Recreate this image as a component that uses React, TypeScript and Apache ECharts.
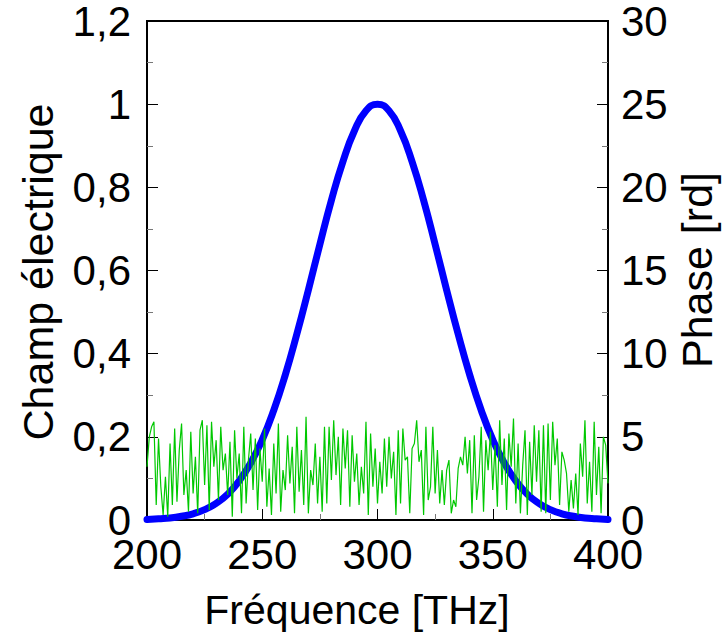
import React, { useEffect, useRef } from "react";
import * as echarts from "echarts";

// Amplitude (Champ électrique) read at 5 THz steps
const ampFreq = [
  200, 205, 210, 215, 220, 225, 230, 235, 240, 245, 250, 255, 260, 265, 270, 275, 280, 285, 290, 295,
  300, 305, 310, 315, 320, 325, 330, 335, 340, 345, 350, 355, 360, 365, 370, 375, 380, 385, 390, 395, 400,
];
const ampValues = [
  0.001, 0.003, 0.005, 0.009, 0.015, 0.025, 0.04, 0.062, 0.094, 0.137, 0.193, 0.264, 0.349, 0.447, 0.553,
  0.663, 0.769, 0.862, 0.936, 0.984, 1.0, 0.984, 0.936, 0.862, 0.769, 0.663, 0.553, 0.447, 0.349, 0.264,
  0.193, 0.137, 0.094, 0.062, 0.04, 0.025, 0.015, 0.009, 0.005, 0.003, 0.001,
];

// Phase [rd], sampled every 1 THz from 200 THz
const phaseStartFreq = 200;
const phaseStepFreq = 1;
const phaseValues = [
  3.2, 5.0, 5.6, 5.9, 0.9, 4.9, 2.0, 0.3, 2.6, 0.2, 4.6, 0.9, 5.5, 1.1, 4.2, 5.8, 1.5, 3.0, 0.5, 5.3,
  1.6, 3.8, 0.4, 5.4, 6.0, 2.1, 5.7, 0.6, 5.9, 3.2, 4.8, 1.2, 5.6, 3.0, 4.0,
  1.5, 4.7, 0.2, 5.4, 2.5, 4.0, 0.4, 5.6, 1.0, 3.6, 5.2, 1.8, 4.9, 0.6, 4.3, 2.3, 5.5, 0.8, 3.1, 0.3,
  4.6, 1.6, 5.8, 0.5, 3.0, 1.8, 5.1, 2.2, 4.4, 0.4, 5.6, 1.7, 4.2, 0.9,
  6.2, 0.4, 3.0, 2.1, 4.6, 1.0, 3.8, 0.5, 5.6, 1.0, 5.6, 2.4, 6.0, 2.7, 5.0, 0.9, 5.5, 3.1, 5.4, 0.8,
  5.1, 2.3, 4.0, 0.9, 3.2, 1.6, 5.9, 0.3, 5.2, 2.0, 4.3, 1.0, 3.5, 1.6, 4.9, 2.0,
  5.0, 2.5, 4.1, 0.3, 5.4, 1.0, 5.5, 3.6, 3.8, 0.4, 4.3, 4.6, 6.0, 3.5, 4.2, 0.3, 5.6, 1.2, 2.0, 5.6,
  1.6, 4.2, 1.0, 3.0, 0.9, 3.0, 3.6, 0.4, 1.2, 0.8, 3.1, 3.8, 3.3,
  5.0, 2.8, 4.8, 0.4, 5.1, 1.2, 2.6, 5.6, 0.5, 4.8, 3.0, 5.3, 1.8, 4.5, 0.8, 6.0, 2.1, 4.9, 0.6, 5.2,
  3.2, 6.1, 1.0, 4.6, 0.4, 3.3, 5.4, 0.3, 4.7, 1.5, 5.7, 2.3, 5.4, 0.5, 5.7,
  0.4, 5.8, 1.2, 5.9, 3.3, 4.9, 0.9, 4.1, 3.6, 2.8, 0.5, 2.4, 0.7, 2.8, 0.3, 4.6, 2.6, 6.0, 1.0, 3.5,
  0.5, 5.9, 1.5, 4.4, 0.4, 5.0, 4.5, 2.2,
];

// Axis ranges
const xRange = [200, 400, 50];
const leftRange = [0, 1.2, 0.2];
const rightRange = [0, 30, 5];

const xTitle = "Fréquence [THz]";
const leftTitle = "Champ électrique";
const rightTitle = "Phase [rd]";

const FONT = "'Liberation Sans', Arial, sans-serif";

export default function App() {
  const ref = useRef<HTMLDivElement>(null);

  useEffect(() => {
    if (!ref.current) return;
    const chart = echarts.init(ref.current, null, { renderer: "svg" });

    const ampData = ampFreq.map((f, i) => [f, ampValues[i]]);
    const phaseData = phaseValues.map((v, i) => [phaseStartFreq + i * phaseStepFreq, v]);

    const tickLabel = { fontSize: 42, color: "#000", fontFamily: FONT };
    const yTickLabel = { ...tickLabel, lineHeight: 34, padding: [6, 0, 0, 0] };
    const axisLine = { show: true, lineStyle: { color: "#000", width: 2 } };
    const axisTick = { show: true, inside: true, length: 11, lineStyle: { color: "#000", width: 1 } };
    const minorTick = { show: true, splitNumber: 2, length: 6, lineStyle: { color: "#777", width: 1 } };

    chart.setOption({
      animation: false,
      backgroundColor: "#fff",
      grid: {
        left: 147,
        right: 120,
        top: 21,
        bottom: 117,
        show: true,
        borderColor: "#000",
        borderWidth: 2,
        backgroundColor: "transparent",
      },
      xAxis: {
        type: "value",
        min: xRange[0],
        max: xRange[1],
        interval: xRange[2],
        axisLine,
        axisTick,
        minorTick,
        splitLine: { show: false },
        axisLabel: { ...tickLabel, margin: 13 },
      },
      yAxis: [
        {
          type: "value",
          position: "left",
          min: leftRange[0],
          max: leftRange[1],
          interval: leftRange[2],
          axisLine,
          axisTick,
          minorTick,
          splitLine: { show: false },
          axisLabel: {
            ...yTickLabel,
            margin: 16,
            formatter: (v: number) => String(Math.round(v * 10) / 10).replace(".", ","),
          },
        },
        {
          type: "value",
          position: "right",
          min: rightRange[0],
          max: rightRange[1],
          interval: rightRange[2],
          axisLine,
          axisTick,
          minorTick,
          splitLine: { show: false },
          axisLabel: { ...yTickLabel, margin: 13 },
        },
      ],
      series: [
        {
          type: "line",
          yAxisIndex: 0,
          data: ampData,
          showSymbol: false,
          smooth: true,
          clip: false,
          lineStyle: { color: "#0000ff", width: 7, cap: "round", join: "round" },
          z: 2,
        },
        {
          type: "line",
          yAxisIndex: 1,
          data: phaseData,
          showSymbol: false,
          lineStyle: { color: "#00c800", width: 1.2 },
          z: 3,
        },
      ],
      graphic: [
        {
          type: "text",
          x: 357,
          y: 610,
          style: {
            text: xTitle,
            fontSize: 41,
            fontFamily: FONT,
            fill: "#000",
            align: "center",
            verticalAlign: "middle",
          },
        },
        {
          type: "text",
          x: 38,
          y: 272,
          rotation: Math.PI / 2,
          style: {
            text: leftTitle,
            fontSize: 43,
            fontFamily: FONT,
            fill: "#000",
            align: "center",
            verticalAlign: "middle",
          },
        },
        {
          type: "text",
          x: 697,
          y: 270,
          rotation: Math.PI / 2,
          style: {
            text: rightTitle,
            fontSize: 43,
            fontFamily: FONT,
            fill: "#000",
            align: "center",
            verticalAlign: "middle",
          },
        },
      ],
    });

    return () => chart.dispose();
  }, []);

  return (
    <div
      ref={ref}
      style={{ position: "fixed", left: 0, top: 0, width: 728, height: 637, background: "#fff" }}
    />
  );
}
